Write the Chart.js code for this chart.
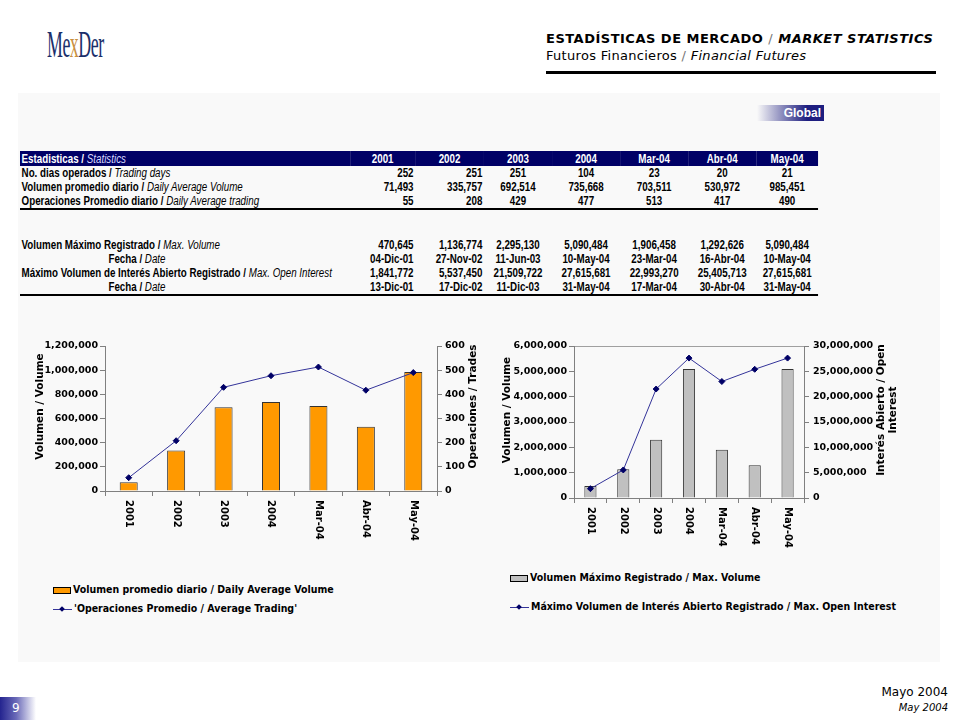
<!DOCTYPE html>
<html lang="es">
<head>
<meta charset="UTF-8">
<title>MexDer - Estadísticas de Mercado</title>
<style>
  body { margin: 0; width: 960px; height: 720px; position: relative; overflow: hidden;
         background: #fff; font-family: "DejaVu Sans", Verdana, sans-serif; color: #000; }
  .abs { position: absolute; }
  .panel { left: 18px; top: 93px; width: 922px; height: 569px; background: #f9f9f9; }
  .logo { left: 47px; top: 22px; font-family: "Liberation Serif", serif; font-size: 38px;
          color: #1b2f6b; transform: scaleX(0.47); transform-origin: left top; letter-spacing: -1px; }
  .logo .x { color: #c98f3e; }
  .head1 { left: 546px; top: 31px; font-size: 13px; font-weight: bold; white-space: nowrap; letter-spacing: 0.5px; }
  .head2 { left: 546px; top: 48px; font-size: 13px; white-space: nowrap; letter-spacing: 0.3px; }
  .sep { color: #777; font-weight: normal; }
  .rule { left: 546px; top: 71px; width: 390px; height: 3px; background: #000; }
  .tab { left: 757px; top: 105px; width: 67px; height: 16px; color: #fff; font-weight: bold;
         font-family: "Liberation Sans", Arial, sans-serif; font-size: 12px; line-height: 16px;
         text-align: right; box-sizing: border-box; padding-right: 3px;
         background: linear-gradient(to right, rgba(255,255,255,0), #1e1e80 75%); }
  /* Arial Narrow look: normal Arial squeezed horizontally */
  table.stats { left: 20px; top: 151px; width: 1020px; border-collapse: collapse; table-layout: fixed;
         transform: scaleX(0.7824); transform-origin: left top;
         font-family: "Liberation Sans", Arial, sans-serif; font-size: 12.5px; font-weight: bold; }
  table.stats td { padding: 0 2px; height: 14px; line-height: 14px; white-space: nowrap; overflow: visible; }
  table.stats tr.hdr td { background: #000066; color: #fff; height: 15px; }
  table.stats tr.hdr i { color: #d8d8ff; font-weight: normal; }
  table.stats i { font-weight: normal; }
  table.stats tr.line td { height: 2px; line-height: 0; font-size: 0; background: #000; padding: 0; }
  table.stats tr.gap td { height: 28px; }
  .r { text-align: right; }
  .c { text-align: center; }
  .ind { padding-left: 113px !important; }
  .chart { position: absolute; }
  .legend { font-family: "DejaVu Sans Condensed", "DejaVu Sans", sans-serif; font-weight: bold;
            font-size: 10.5px; white-space: nowrap; }
  .legend div { position: absolute; white-space: nowrap; }
  .sw { display: inline-block; width: 18px; height: 7px; border: 1px solid #000; vertical-align: middle;
        margin-right: 2px; box-sizing: border-box; }
  .ln { display: inline-block; width: 19px; height: 1px; background: #333399; vertical-align: middle;
        position: relative; margin-right: 2px; }
  .ln:after { content: ""; position: absolute; left: 7px; top: -2px; width: 4px; height: 4px;
              background: #000066; transform: rotate(45deg); }
  .foot1 { right: 12px; top: 685px; font-size: 12px; }
  .foot2 { right: 12px; top: 702px; font-size: 10px; font-style: italic; }
  .page { left: 0; top: 697px; width: 36px; height: 23px; color: #fff; font-size: 12px; line-height: 23px;
          text-indent: 12px; background: linear-gradient(to right, #24248f, #6a6ab8 45%, #fff); }
</style>
</head>
<body>
<div class="abs panel"></div>
<div class="abs logo">Me<span class="x">x</span>Der</div>
<div class="abs head1">ESTADÍSTICAS DE MERCADO <span class="sep">/</span> <i>MARKET STATISTICS</i></div>
<div class="abs head2">Futuros Financieros <span class="sep">/</span> <i>Financial Futures</i></div>
<div class="abs rule"></div>
<div class="abs tab">Global</div>

<table class="abs stats" id="stats">
  <colgroup>
    <col style="width:422px"><col style="width:83px"><col style="width:88px"><col style="width:87px">
    <col style="width:87px"><col style="width:87px"><col style="width:87px"><col style="width:79px">
  </colgroup>
  <tbody id="statsBody"></tbody>
</table>

<canvas class="chart" id="volChart" style="left:20px;top:330px;width:460px;height:230px" width="460" height="230"></canvas>
<canvas class="chart" id="maxChart" style="left:490px;top:330px;width:430px;height:230px" width="430" height="230"></canvas>

<div class="legend">
  <div style="left:53px;top:583px"><span class="sw" style="background:#ff9900"></span>Volumen promedio diario / Daily Average Volume</div>
  <div style="left:53px;top:602px"><span class="ln"></span>'Operaciones Promedio / Average Trading'</div>
  <div style="left:510px;top:571px"><span class="sw" style="background:#c0c0c0"></span>Volumen Máximo Registrado / Max. Volume</div>
  <div style="left:510px;top:600px"><span class="ln"></span>Máximo Volumen de Interés Abierto Registrado / Max. Open Interest</div>
</div>

<div class="abs foot1">Mayo 2004</div>
<div class="abs foot2">May 2004</div>
<div class="abs page">9</div>

<script src="https://cdn.jsdelivr.net/npm/chart.js"></script>
<script>
  const periods = ["2001", "2002", "2003", "2004", "Mar-04", "Abr-04", "May-04"];
  const tradingDays = [252, 251, 251, 104, 23, 20, 21];
  const avgVolume = [71493, 335757, 692514, 735668, 703511, 530972, 985451];
  const avgTrades = [55, 208, 429, 477, 513, 417, 490];
  const maxVolume = [470645, 1136774, 2295130, 5090484, 1906458, 1292626, 5090484];
  const maxVolumeDate = ["04-Dic-01", "27-Nov-02", "11-Jun-03", "10-May-04", "23-Mar-04", "16-Abr-04", "10-May-04"];
  const maxOpenInterest = [1841772, 5537450, 21509722, 27615681, 22993270, 25405713, 27615681];
  const maxOpenInterestDate = ["13-Dic-01", "17-Dic-02", "11-Dic-03", "31-May-04", "17-Mar-04", "30-Abr-04", "31-May-04"];

  const fmt = (v) => (typeof v === "number" ? v.toLocaleString("en-US") : v);

  // Build the statistics table
  function cells(values) {
    return values
      .map((v, i) => '<td class="' + (i < 2 ? "r" : "c") + '">' + fmt(v) + "</td>")
      .join("");
  }
  function row(es, en, values, indent) {
    return "<tr><td" + (indent ? ' class="ind"' : "") + ">" + es + " / <i>" + en + "</i></td>" + cells(values) + "</tr>";
  }
  let html = '<tr class="hdr"><td>Estadisticas / <i>Statistics</i></td>' +
    periods.map((h) => '<td class="c">' + h + "</td>").join("") + "</tr>";
  html += row("No. dias operados", "Trading days", tradingDays);
  html += row("Volumen promedio diario", "Daily Average Volume", avgVolume);
  html += row("Operaciones Promedio diario", "Daily Average trading", avgTrades);
  html += '<tr class="line"><td colspan="8"></td></tr><tr class="gap"><td colspan="8"></td></tr>';
  html += row("Volumen Máximo Registrado", "Max. Volume", maxVolume);
  html += row("Fecha", "Date", maxVolumeDate, true);
  html += row("Máximo Volumen de Interés Abierto Registrado", "Max. Open Interest", maxOpenInterest);
  html += row("Fecha", "Date", maxOpenInterestDate, true);
  html += '<tr class="line"><td colspan="8"></td></tr>';
  document.getElementById("statsBody").innerHTML = html;

  // Charts
  const tickFont = { family: "DejaVu Sans", size: 9.5, weight: "bold" };
  const axisGray = "#808080";

  // rotated category labels + axis titles reading bottom-to-top
  const excelText = {
    id: "excelText",
    afterDraw(chart, args, opts) {
      const { ctx, chartArea, scales } = chart;
      ctx.save();
      ctx.fillStyle = "#000";
      ctx.font = "bold 10px 'DejaVu Sans'";
      scales.x.ticks.forEach((t, i) => {
        ctx.save();
        ctx.translate(scales.x.getPixelForTick(i), chartArea.bottom + 9);
        ctx.rotate(Math.PI / 2);
        ctx.textAlign = "left";
        ctx.textBaseline = "middle";
        ctx.fillText(scales.x.getLabelForValue(t.value), 0, 0);
        ctx.restore();
      });
      ctx.font = "bold 10.5px 'DejaVu Sans'";
      const cy = (chartArea.top + chartArea.bottom) / 2 - 12;
      opts.titles.forEach((tt) => {
        ctx.save();
        ctx.translate(tt.x, cy);
        ctx.rotate(-Math.PI / 2);
        ctx.textAlign = "center";
        ctx.textBaseline = "middle";
        tt.lines.forEach((l, k) => ctx.fillText(l, 0, k * 12));
        ctx.restore();
      });
      ctx.restore();
    },
  };

  function yAxis(pos, max, step, width, pad, topBorder) {
    return {
      position: pos,
      min: 0,
      max: max,
      ticks: { stepSize: step, color: "#000", font: tickFont, padding: pad, callback: (v) => fmt(v) },
      grid: {
        drawOnChartArea: !!topBorder,
        color: (c) => (topBorder && c.tick && c.tick.value === max ? "#a0a0a0" : "rgba(0,0,0,0)"),
        tickColor: axisGray,
        tickLength: 5,
      },
      border: { color: axisGray },
      afterFit(s) { s.width = width; },
    };
  }

  function xAxis(height) {
    return {
      ticks: { display: false },
      grid: { drawOnChartArea: false, color: axisGray, tickLength: 5 },
      border: { color: axisGray },
      afterFit(s) { s.height = height; },
    };
  }

  new Chart(document.getElementById("volChart"), {
    data: {
      labels: periods,
      datasets: [
        {
          type: "line",
          label: "'Operaciones Promedio / Average Trading'",
          data: avgTrades,
          yAxisID: "y1",
          borderColor: "#333399",
          borderWidth: 1,
          pointStyle: "rectRot",
          pointRadius: 3,
          pointBackgroundColor: "#000066",
          pointBorderColor: "#000066",
          order: 0,
        },
        {
          type: "bar",
          label: "Volumen promedio diario / Daily Average Volume",
          data: avgVolume,
          yAxisID: "y",
          backgroundColor: "#ff9900",
          borderColor: "#333",
          borderWidth: 1,
          barPercentage: 0.38,
          categoryPercentage: 1,
          order: 1,
        },
      ],
    },
    options: {
      responsive: false,
      animation: false,
      layout: { padding: { top: 16 } },
      plugins: {
        legend: { display: false },
        tooltip: { enabled: false },
        excelText: { titles: [{ x: 20, lines: ["Volumen / Volume"] }, { x: 453, lines: ["Operaciones / Trades"] }] },
      },
      scales: {
        x: xAxis(69),
        y: yAxis("left", 1200000, 200000, 85, 2, false),
        y1: yAxis("right", 600, 100, 43, 3, false),
      },
    },
    plugins: [excelText],
  });

  new Chart(document.getElementById("maxChart"), {
    data: {
      labels: periods,
      datasets: [
        {
          type: "line",
          label: "Máximo Volumen de Interés Abierto Registrado / Max. Open Interest",
          data: maxOpenInterest,
          yAxisID: "y1",
          borderColor: "#333399",
          borderWidth: 1,
          pointStyle: "rectRot",
          pointRadius: 3,
          pointBackgroundColor: "#000066",
          pointBorderColor: "#000066",
          order: 0,
        },
        {
          type: "bar",
          label: "Volumen Máximo Registrado / Max. Volume",
          data: maxVolume,
          yAxisID: "y",
          backgroundColor: "#c0c0c0",
          borderColor: "#333",
          borderWidth: 1,
          barPercentage: 0.37,
          categoryPercentage: 1,
          order: 1,
        },
      ],
    },
    options: {
      responsive: false,
      animation: false,
      layout: { padding: { top: 16 } },
      plugins: {
        legend: { display: false },
        tooltip: { enabled: false },
        excelText: { titles: [{ x: 17, lines: ["Volumen / Volume"] }, { x: 391, lines: ["Interés Abierto / Open", "Interest"] }] },
      },
      scales: {
        x: xAxis(62),
        y: yAxis("left", 6000000, 1000000, 84, 2, true),
        y1: yAxis("right", 30000000, 5000000, 116, 4, true),
      },
    },
    plugins: [excelText],
  });
</script>
</body>
</html>
